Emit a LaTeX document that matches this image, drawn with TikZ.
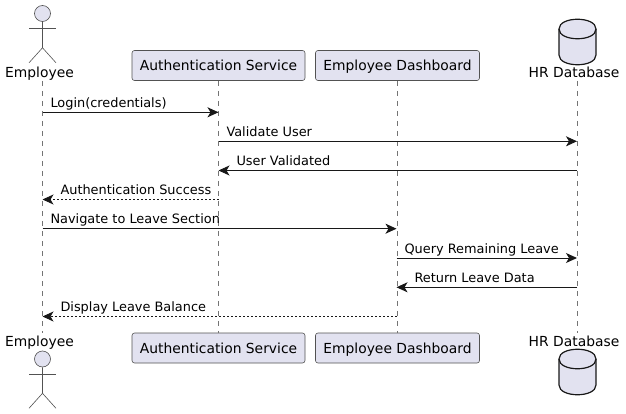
\documentclass[tikz,border=0pt]{standalone}
\usepackage{fontspec}
\setmainfont{DejaVu Sans}
\usetikzlibrary{arrows.meta}
\definecolor{partfill}{HTML}{E2E2F0}
\definecolor{partline}{HTML}{181818}
\tikzset{
    part/.style={shape=rectangle,draw=partline!75,line width=0.6pt,fill=partfill,rounded corners=2.5pt,minimum height=30pt,inner sep=0pt,text height=11.7pt,text depth=1.5pt,font=\fontsize{13.85}{16}\selectfont},
    caption/.style={inner sep=0pt,text height=11.7pt,text depth=1.5pt,font=\fontsize{13.85}{16}\selectfont},
    actorhead/.style={shape=circle,draw=partline!75,line width=0.6pt,fill=partfill,minimum size=16pt,inner sep=0pt},
    life/.style={draw=partline!60,line width=0.5pt,dash pattern=on 5pt off 5pt},
    limb/.style={draw=partline!75,line width=0.6pt},
    msg/.style={draw=partline,line width=1pt,-{Stealth[length=11pt,width=10pt,inset=3pt]}},
    backmsg/.style={msg,dash pattern=on 2pt off 2pt},
    txt/.style={inner sep=0pt,anchor=base west,font=\fontsize{12.9}{15}\selectfont},
}
% actor figure: head node, then offsets from its centre
\newcommand{\actorlimbs}[1]{
    \draw[limb] (#1.south) -- ++(0,26) -- ++(-13.5,15);
    \draw[limb] (#1.south) ++(0,26) -- ++(13.5,15);
    \draw[limb] (#1.south) ++(-13.5,7) -- ++(27,0);
}
% database drum, top left corner given
\newcommand{\drum}[2]{
    \draw[partline,line width=1.2pt,fill=partfill] (#1,#2+10) .. controls (#1,#2-3) and (#1+37,#2-3) .. (#1+37,#2+10)
        -- (#1+37,#2+36) .. controls (#1+37,#2+49) and (#1,#2+49) .. (#1,#2+36) -- cycle;
    \draw[partline,line width=1.2pt] (#1,#2+10) .. controls (#1,#2+23) and (#1+37,#2+23) .. (#1+37,#2+10);
}
\begin{document}
\begin{tikzpicture}[x=1pt,y=-1pt]
    \useasboundingbox (0,0) rectangle (626,414);
    \node[actorhead] (emphead) at (42.5,13.5) {};
    \node[actorhead] (empheadb) at (42.5,359) {};
    \actorlimbs{emphead}
    \actorlimbs{empheadb}
    \node[caption] (emptop) at (39.5,72.5) {Employee};
    \node[caption] (empbot) at (39.5,341.5) {Employee};
    \node[part,minimum width=173pt] (authtop) at (218.5,65.5) {Authentication Service};
    \node[part,minimum width=173pt] (authbot) at (218.5,348) {Authentication Service};
    \node[part,minimum width=164pt] (dashtop) at (397.5,65.5) {Employee Dashboard};
    \node[part,minimum width=164pt] (dashbot) at (397.5,348) {Employee Dashboard};
    \drum{559}{19}
    \drum{559}{349}
    \node[caption] (hrtop) at (574,72.5) {HR Database};
    \node[caption] (hrbot) at (574,341.5) {HR Database};

    \coordinate (empa) at (42.5,81);
    \coordinate (empz) at (42.5,333);
    \coordinate (hra) at (577,81);
    \coordinate (hrz) at (577,333);
    \path[life] (empa) -- (empz);
    \path[life] (authtop) -- (authbot);
    \path[life] (dashtop) -- (dashbot);
    \path[life] (hra) -- (hrz);

    \foreach \m/\y in {1/112.3,2/141.3,3/170.5,4/199.5,5/228.7,6/258,7/287.3,8/316.5}{
        \coordinate (emp\m) at (42.5,\y);
        \coordinate (auth\m) at (218.5,\y);
        \coordinate (dash\m) at (396.5,\y);
        \coordinate (hr\m) at (577,\y);
    }
    \draw[msg] (emp1) -- node[txt,at start,xshift=7.5pt,yshift=5pt] (m1) {Login(credentials)} (auth1);
    \draw[msg] (auth2) -- node[txt,at start,xshift=7.5pt,yshift=5pt] (m2) {Validate User} (hr2);
    \draw[msg] (hr3) -- node[txt,at end,xshift=17.5pt,yshift=5pt] (m3) {User Validated} (auth3);
    \draw[backmsg] (auth4) -- node[txt,at end,xshift=17.5pt,yshift=5pt] (m4) {Authentication Success} (emp4);
    \draw[msg] (emp5) -- node[txt,at start,xshift=7.5pt,yshift=5pt] (m5) {Navigate to Leave Section} (dash5);
    \draw[msg] (dash6) -- node[txt,at start,xshift=7.5pt,yshift=5pt] (m6) {Query Remaining Leave} (hr6);
    \draw[msg] (hr7) -- node[txt,at end,xshift=17.5pt,yshift=5pt] (m7) {Return Leave Data} (dash7);
    \draw[backmsg] (dash8) -- node[txt,at end,xshift=17.5pt,yshift=5pt] (m8) {Display Leave Balance} (emp8);
\end{tikzpicture}
\end{document}
